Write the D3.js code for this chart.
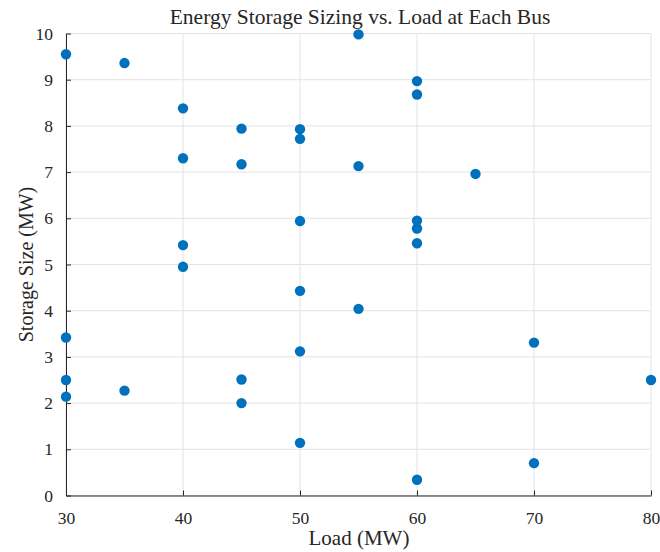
<!DOCTYPE html>
<html>
<head>
<meta charset="utf-8">
<script src="https://cdn.jsdelivr.net/npm/d3@7"></script>
<style>
  body { margin: 0; background: #fff; }
  svg text { font-family: "Liberation Serif", serif; fill: #262626; }
</style>
</head>
<body>
<div id="chart"></div>
<script>
// load at each bus (MW) and the storage size picked for it (MW)
const loads = [30, 30, 30, 30, 35, 35, 40, 40, 40, 40, 45, 45, 45, 45,
  50, 50, 50, 50, 50, 50, 55, 55, 55, 60, 60, 60, 60, 60, 60, 65, 70, 70, 80]
const storage = [9.55, 3.42, 2.50, 2.14, 9.36, 2.27, 8.38, 7.30, 5.42, 4.95,
  7.94, 7.17, 2.51, 2.00, 7.93, 7.72, 5.94, 4.43, 3.12, 1.14, 9.98, 7.13, 4.04,
  8.97, 8.68, 5.95, 5.78, 5.46, 0.34, 6.96, 3.31, 0.70, 2.50]
const xTicks = [30, 40, 50, 60, 70, 80]
const yTicks = [0, 1, 2, 3, 4, 5, 6, 7, 8, 9, 10]

const width = 660
const height = 552
const margin = { top: 33.5, right: 9, bottom: 56.5, left: 66 }

const svg = d3.select("#chart")
  .append("svg")
  .attr("width", width)
  .attr("height", height)

const x = d3.scaleLinear()
  .domain([30, 80])
  .range([margin.left, width - margin.right])

const y = d3.scaleLinear()
  .domain([0, 10])
  .range([height - margin.bottom, margin.top])

// grid lines
svg.append("g")
  .selectAll("line")
  .data(xTicks)
  .enter()
  .append("line")
  .attr("x1", d => x(d)).attr("x2", d => x(d))
  .attr("y1", y(0)).attr("y2", y(10))
  .attr("stroke", "#e3e3e3")

svg.append("g")
  .selectAll("line")
  .data(yTicks)
  .enter()
  .append("line")
  .attr("x1", x(30)).attr("x2", x(80))
  .attr("y1", d => y(d)).attr("y2", d => y(d))
  .attr("stroke", "#e3e3e3")

// axes, ticks pointing inward like matlab
const xAxis = d3.axisBottom(x).tickValues(xTicks).tickSizeInner(-5).tickSizeOuter(0).tickPadding(16)
const yAxis = d3.axisLeft(y).tickValues(yTicks).tickSizeInner(-5).tickSizeOuter(0).tickPadding(13)

const gx = svg.append("g")
  .attr("transform", `translate(0, ${y(0)})`)
  .call(xAxis)
const gy = svg.append("g")
  .attr("transform", `translate(${x(30)}, 0)`)
  .call(yAxis)

gx.attr("font-family", null).attr("font-size", 17.5)
gy.attr("font-family", null).attr("font-size", 17.5)
gx.select(".domain").attr("stroke", "#262626")
gy.select(".domain").attr("stroke", "#262626")
gx.selectAll(".tick line").attr("stroke", "#262626")
gy.selectAll(".tick line").attr("stroke", "#262626")
gx.selectAll(".tick text").attr("fill", "#262626")
gy.selectAll(".tick text").attr("fill", "#262626")

// points
svg.append("g")
  .selectAll("circle")
  .data(loads)
  .enter()
  .append("circle")
  .attr("cx", d => x(d))
  .attr("cy", (d, i) => y(storage[i]))
  .attr("r", 5.2)
  .attr("fill", "#0072BD")

// labels
svg.append("text")
  .attr("x", 360)
  .attr("y", 23.5)
  .attr("text-anchor", "middle")
  .attr("font-size", 21.5)
  .text("Energy Storage Sizing vs. Load at Each Bus")

svg.append("text")
  .attr("x", 359)
  .attr("y", 545)
  .attr("text-anchor", "middle")
  .attr("font-size", 21)
  .text("Load (MW)")

svg.append("text")
  .attr("transform", `translate(33, ${(y(0) + y(10)) / 2}) rotate(-90)`)
  .attr("text-anchor", "middle")
  .attr("font-size", 20)
  .text("Storage Size (MW)")
</script>
</body>
</html>
